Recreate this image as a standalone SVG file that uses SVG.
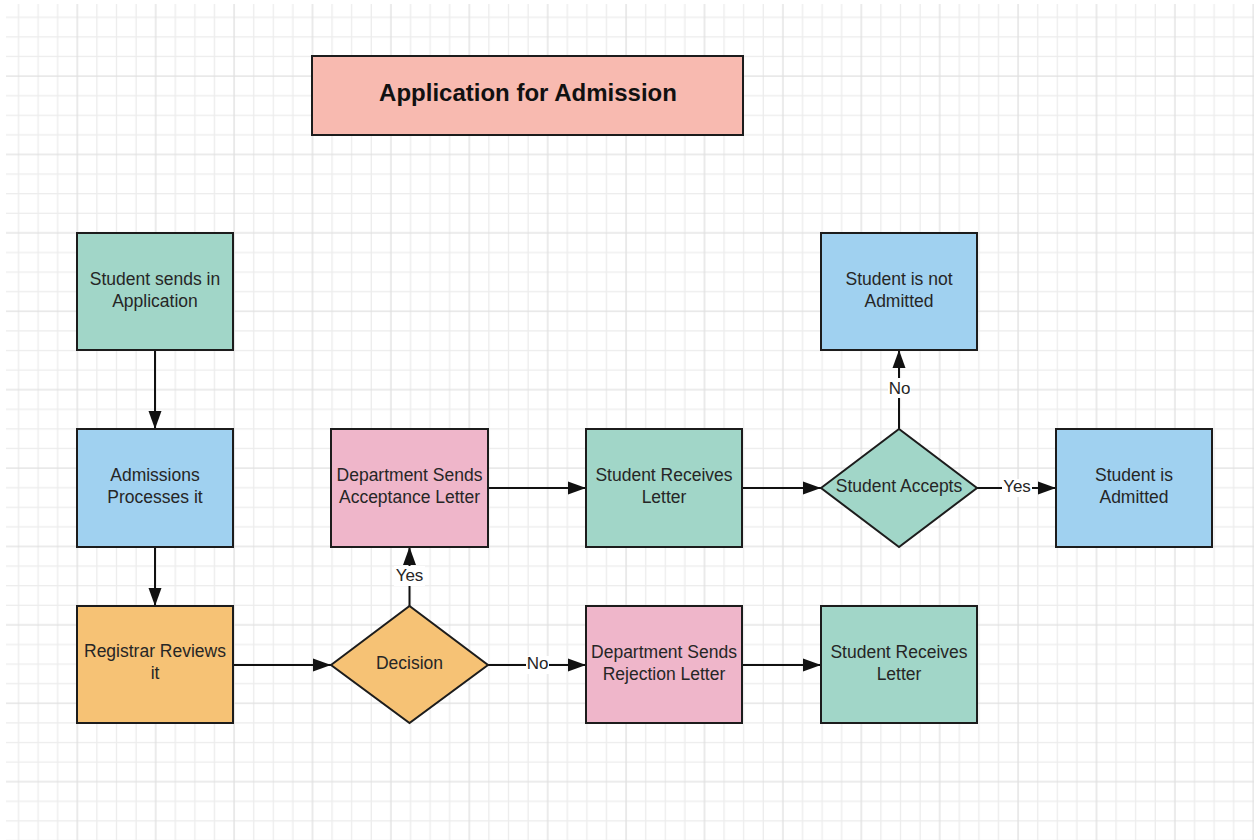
<svg xmlns="http://www.w3.org/2000/svg" width="1254" height="840" viewBox="0 0 1254 840">
  <defs>
    <pattern id="grid" patternUnits="userSpaceOnUse" x="-6.1" y="-7.4" width="78.4" height="78.4">
      <g stroke="#ececec" stroke-width="1.3">
        <line x1="24.6" y1="0" x2="24.6" y2="78.4"/>
        <line x1="44.2" y1="0" x2="44.2" y2="78.4"/>
        <line x1="63.8" y1="0" x2="63.8" y2="78.4"/>
        <line x1="0" y1="24.6" x2="78.4" y2="24.6"/>
        <line x1="0" y1="44.2" x2="78.4" y2="44.2"/>
        <line x1="0" y1="63.8" x2="78.4" y2="63.8"/>
      </g>
      <g stroke="#e0e0e0" stroke-width="1.3">
        <line x1="5" y1="0" x2="5" y2="78.4"/>
        <line x1="0" y1="5" x2="78.4" y2="5"/>
      </g>
    </pattern>
    <marker id="arrow" markerUnits="userSpaceOnUse" markerWidth="19" markerHeight="14" refX="18" refY="7" orient="auto">
      <path d="M0,0.5 L18,7 L0,13.5 z" fill="#111111"/>
    </marker>
  </defs>
  <style>
    .box { stroke: #1c1c1c; stroke-width: 2; }
    .green { fill: #a1d6c8; }
    .blue { fill: #a0d1f0; }
    .pink { fill: #efb6ca; }
    .orange { fill: #f6c275; }
    .salmon { fill: #f8bab0; }
    .t { font-family: "Liberation Sans", Arial, sans-serif; font-size: 17.5px; fill: #262626; text-anchor: middle; }
    .title { font-family: "Liberation Sans", Arial, sans-serif; font-size: 24px; font-weight: bold; fill: #111111; text-anchor: middle; }
    .conn { stroke: #111111; stroke-width: 2; fill: none; }
    .lbl { font-family: "Liberation Sans", Arial, sans-serif; font-size: 17px; fill: #262626; text-anchor: middle; }
    .lblbg { fill: #ffffff; }
  </style>
  <rect x="0" y="0" width="1254" height="840" fill="#ffffff"/>
  <rect x="6" y="4" width="1248" height="836" fill="url(#grid)"/>

  <g id="title">
    <rect class="box salmon" x="312" y="56" width="431" height="79"/>
    <text class="title" x="528" y="100.5">Application for Admission</text>
  </g>

  <g id="connectors">
    <line class="conn" x1="155" y1="350" x2="155" y2="429" marker-end="url(#arrow)"/>
    <line class="conn" x1="155" y1="547" x2="155" y2="606" marker-end="url(#arrow)"/>
    <line class="conn" x1="234" y1="665" x2="331" y2="665" marker-end="url(#arrow)"/>
    <line class="conn" x1="409.5" y1="606" x2="409.5" y2="547" marker-end="url(#arrow)"/>
    <rect class="lblbg" x="394" y="566" width="31" height="20"/>
    <text class="lbl" x="409.5" y="580.5">Yes</text>
    <line class="conn" x1="488" y1="665" x2="586" y2="665" marker-end="url(#arrow)"/>
    <rect class="lblbg" x="526" y="656" width="23" height="18"/>
    <text class="lbl" x="537.5" y="669">No</text>
    <line class="conn" x1="488" y1="488" x2="586" y2="488" marker-end="url(#arrow)"/>
    <line class="conn" x1="742" y1="488" x2="821" y2="488" marker-end="url(#arrow)"/>
    <line class="conn" x1="742" y1="665" x2="821" y2="665" marker-end="url(#arrow)"/>
    <line class="conn" x1="899" y1="429" x2="899" y2="350" marker-end="url(#arrow)"/>
    <rect class="lblbg" x="888" y="378" width="23" height="20"/>
    <text class="lbl" x="899.5" y="394">No</text>
    <line class="conn" x1="977" y1="488" x2="1056" y2="488" marker-end="url(#arrow)"/>
    <rect class="lblbg" x="1002" y="479" width="30" height="18"/>
    <text class="lbl" x="1017" y="492">Yes</text>
  </g>

  <g id="student-sends">
    <rect class="box green" x="77" y="233" width="156" height="117"/>
    <text class="t" x="155" y="285">Student sends in</text>
    <text class="t" x="155" y="307">Application</text>
  </g>

  <g id="admissions">
    <rect class="box blue" x="77" y="429" width="156" height="118"/>
    <text class="t" x="155" y="481">Admissions</text>
    <text class="t" x="155" y="503">Processes it</text>
  </g>

  <g id="registrar">
    <rect class="box orange" x="77" y="606" width="156" height="117"/>
    <text class="t" x="155" y="657">Registrar Reviews</text>
    <text class="t" x="155" y="679">it</text>
  </g>

  <g id="decision">
    <polygon class="box orange" points="331,665 409.5,606 488,665 409.5,723"/>
    <text class="t" x="409.5" y="669">Decision</text>
  </g>

  <g id="acceptance-letter">
    <rect class="box pink" x="331" y="429" width="157" height="118"/>
    <text class="t" x="409.5" y="480.5">Department Sends</text>
    <text class="t" x="409.5" y="502.5">Acceptance Letter</text>
  </g>

  <g id="rejection-letter">
    <rect class="box pink" x="586" y="606" width="156" height="117"/>
    <text class="t" x="664" y="657.5">Department Sends</text>
    <text class="t" x="664" y="679.5">Rejection Letter</text>
  </g>

  <g id="receives-acceptance">
    <rect class="box green" x="586" y="429" width="156" height="118"/>
    <text class="t" x="664" y="480.5">Student Receives</text>
    <text class="t" x="664" y="502.5">Letter</text>
  </g>

  <g id="receives-rejection">
    <rect class="box green" x="821" y="606" width="156" height="117"/>
    <text class="t" x="899" y="657.5">Student Receives</text>
    <text class="t" x="899" y="679.5">Letter</text>
  </g>

  <g id="student-accepts">
    <polygon class="box green" points="821,488 899,429 977,488 899,547"/>
    <text class="t" x="899" y="492">Student Accepts</text>
  </g>

  <g id="not-admitted">
    <rect class="box blue" x="821" y="233" width="156" height="117"/>
    <text class="t" x="899" y="285">Student is not</text>
    <text class="t" x="899" y="307">Admitted</text>
  </g>

  <g id="admitted">
    <rect class="box blue" x="1056" y="429" width="156" height="118"/>
    <text class="t" x="1134" y="480.5">Student is</text>
    <text class="t" x="1134" y="502.5">Admitted</text>
  </g>
</svg>
